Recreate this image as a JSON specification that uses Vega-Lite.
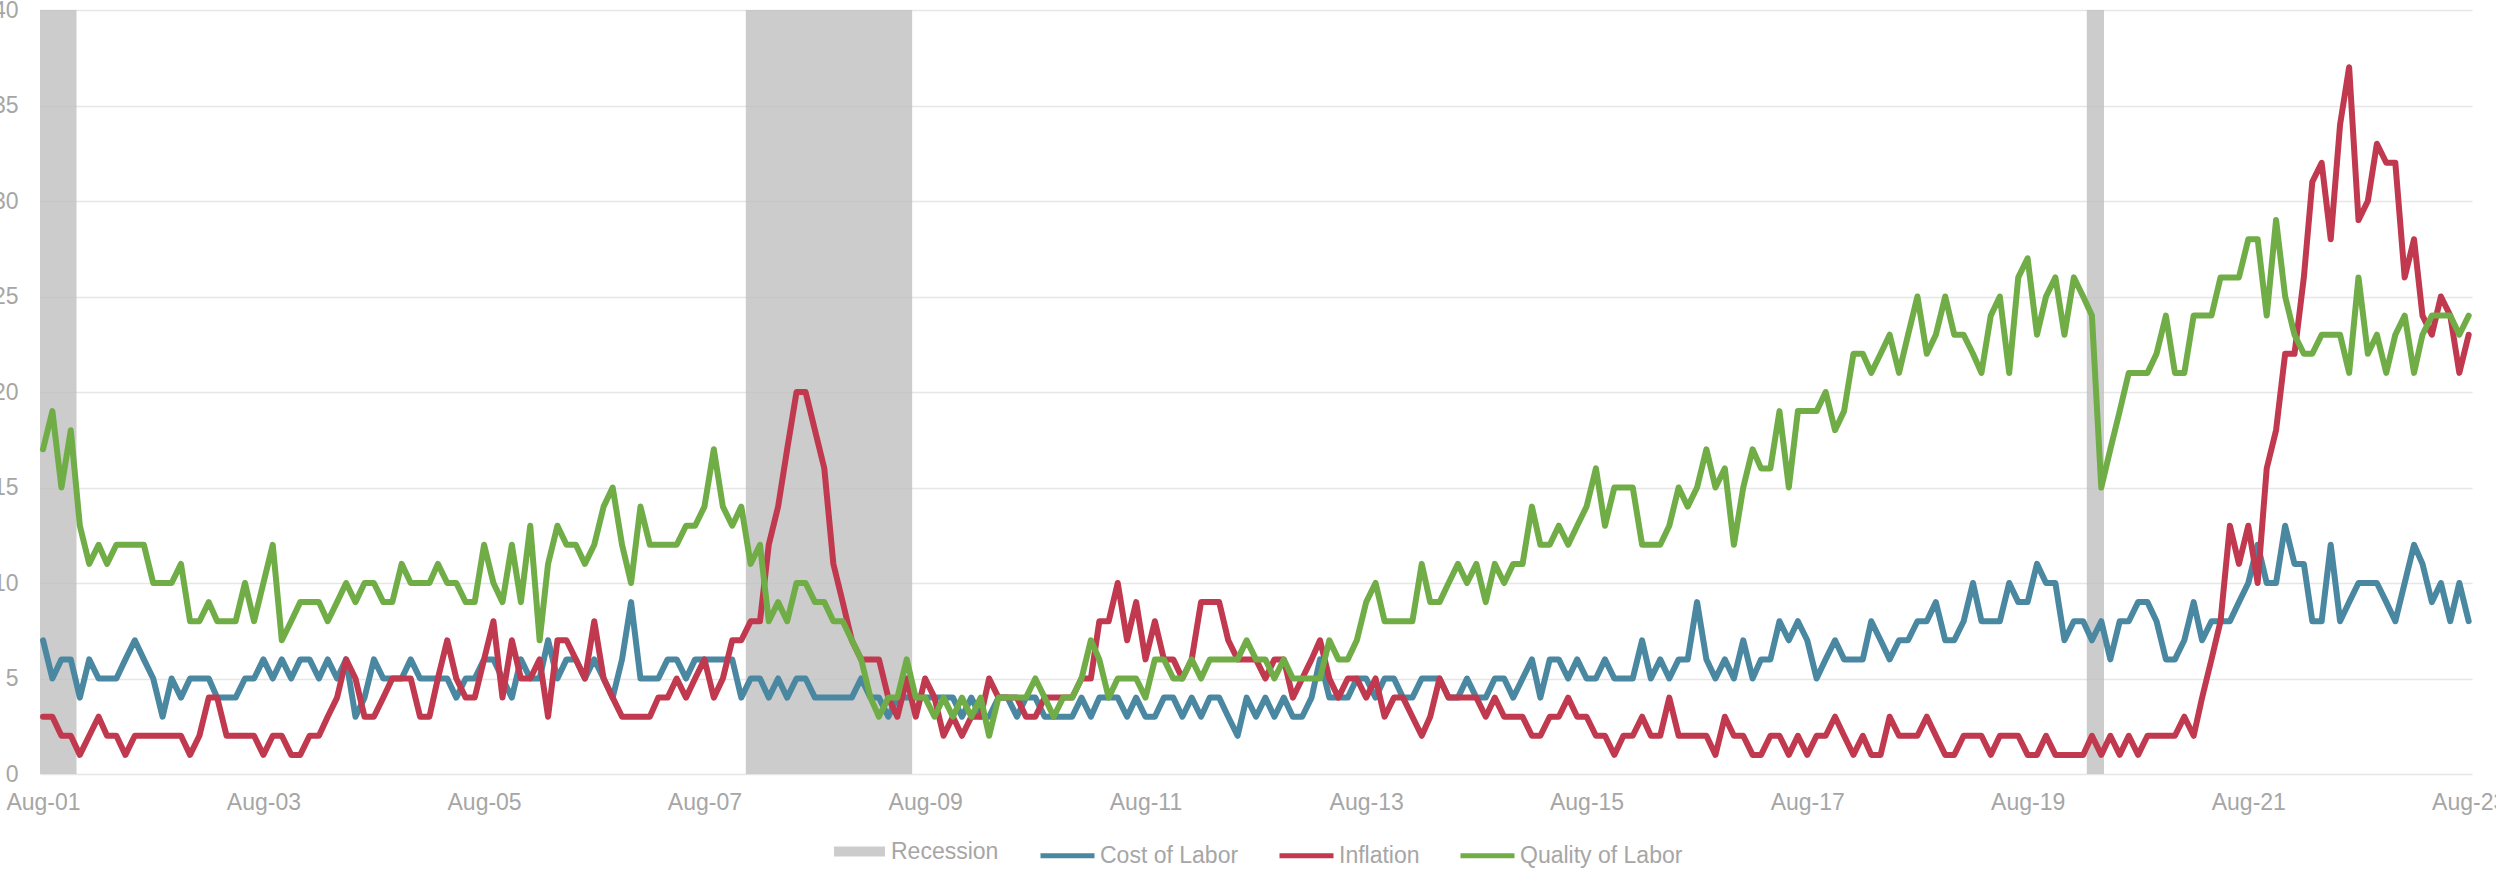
{
"$schema": "https://vega.github.io/schema/vega-lite/v6.json",
"width": 2432, "height": 764,
"autosize": {"type": "none"},
"padding": {"left": 40, "top": 10, "right": 24, "bottom": 97},
"background": "white",
"config": {
  "view": {"stroke": null},
  "font": "Liberation Sans",
  "axis": {"labelFont": "Liberation Sans", "labelFontSize": 23, "labelColor": "#A6A6A6", "ticks": false, "domain": false, "title": null},
  "legend": {"labelFont": "Liberation Sans", "labelFontSize": 23, "labelColor": "#A6A6A6", "padding": 0, "title": null, "labelLimit": 400}
},
"datasets": {
"recessions": [
{"label": "Recession", "start": "2001-03-01", "end": "2001-11-20"},
{"label": "Recession", "start": "2007-12-16", "end": "2009-06-19"},
{"label": "Recession", "start": "2020-02-13", "end": "2020-04-10"}
],
"survey": [
{"date":"2001-08-01","Cost of Labor":7,"Inflation":3,"Quality of Labor":17},
{"date":"2001-09-01","Cost of Labor":5,"Inflation":3,"Quality of Labor":19},
{"date":"2001-10-01","Cost of Labor":6,"Inflation":2,"Quality of Labor":15},
{"date":"2001-11-01","Cost of Labor":6,"Inflation":2,"Quality of Labor":18},
{"date":"2001-12-01","Cost of Labor":4,"Inflation":1,"Quality of Labor":13},
{"date":"2002-01-01","Cost of Labor":6,"Inflation":2,"Quality of Labor":11},
{"date":"2002-02-01","Cost of Labor":5,"Inflation":3,"Quality of Labor":12},
{"date":"2002-03-01","Cost of Labor":5,"Inflation":2,"Quality of Labor":11},
{"date":"2002-04-01","Cost of Labor":5,"Inflation":2,"Quality of Labor":12},
{"date":"2002-05-01","Cost of Labor":6,"Inflation":1,"Quality of Labor":12},
{"date":"2002-06-01","Cost of Labor":7,"Inflation":2,"Quality of Labor":12},
{"date":"2002-07-01","Cost of Labor":6,"Inflation":2,"Quality of Labor":12},
{"date":"2002-08-01","Cost of Labor":5,"Inflation":2,"Quality of Labor":10},
{"date":"2002-09-01","Cost of Labor":3,"Inflation":2,"Quality of Labor":10},
{"date":"2002-10-01","Cost of Labor":5,"Inflation":2,"Quality of Labor":10},
{"date":"2002-11-01","Cost of Labor":4,"Inflation":2,"Quality of Labor":11},
{"date":"2002-12-01","Cost of Labor":5,"Inflation":1,"Quality of Labor":8},
{"date":"2003-01-01","Cost of Labor":5,"Inflation":2,"Quality of Labor":8},
{"date":"2003-02-01","Cost of Labor":5,"Inflation":4,"Quality of Labor":9},
{"date":"2003-03-01","Cost of Labor":4,"Inflation":4,"Quality of Labor":8},
{"date":"2003-04-01","Cost of Labor":4,"Inflation":2,"Quality of Labor":8},
{"date":"2003-05-01","Cost of Labor":4,"Inflation":2,"Quality of Labor":8},
{"date":"2003-06-01","Cost of Labor":5,"Inflation":2,"Quality of Labor":10},
{"date":"2003-07-01","Cost of Labor":5,"Inflation":2,"Quality of Labor":8},
{"date":"2003-08-01","Cost of Labor":6,"Inflation":1,"Quality of Labor":10},
{"date":"2003-09-01","Cost of Labor":5,"Inflation":2,"Quality of Labor":12},
{"date":"2003-10-01","Cost of Labor":6,"Inflation":2,"Quality of Labor":7},
{"date":"2003-11-01","Cost of Labor":5,"Inflation":1,"Quality of Labor":8},
{"date":"2003-12-01","Cost of Labor":6,"Inflation":1,"Quality of Labor":9},
{"date":"2004-01-01","Cost of Labor":6,"Inflation":2,"Quality of Labor":9},
{"date":"2004-02-01","Cost of Labor":5,"Inflation":2,"Quality of Labor":9},
{"date":"2004-03-01","Cost of Labor":6,"Inflation":3,"Quality of Labor":8},
{"date":"2004-04-01","Cost of Labor":5,"Inflation":4,"Quality of Labor":9},
{"date":"2004-05-01","Cost of Labor":6,"Inflation":6,"Quality of Labor":10},
{"date":"2004-06-01","Cost of Labor":3,"Inflation":5,"Quality of Labor":9},
{"date":"2004-07-01","Cost of Labor":4,"Inflation":3,"Quality of Labor":10},
{"date":"2004-08-01","Cost of Labor":6,"Inflation":3,"Quality of Labor":10},
{"date":"2004-09-01","Cost of Labor":5,"Inflation":4,"Quality of Labor":9},
{"date":"2004-10-01","Cost of Labor":5,"Inflation":5,"Quality of Labor":9},
{"date":"2004-11-01","Cost of Labor":5,"Inflation":5,"Quality of Labor":11},
{"date":"2004-12-01","Cost of Labor":6,"Inflation":5,"Quality of Labor":10},
{"date":"2005-01-01","Cost of Labor":5,"Inflation":3,"Quality of Labor":10},
{"date":"2005-02-01","Cost of Labor":5,"Inflation":3,"Quality of Labor":10},
{"date":"2005-03-01","Cost of Labor":5,"Inflation":5,"Quality of Labor":11},
{"date":"2005-04-01","Cost of Labor":5,"Inflation":7,"Quality of Labor":10},
{"date":"2005-05-01","Cost of Labor":4,"Inflation":5,"Quality of Labor":10},
{"date":"2005-06-01","Cost of Labor":5,"Inflation":4,"Quality of Labor":9},
{"date":"2005-07-01","Cost of Labor":5,"Inflation":4,"Quality of Labor":9},
{"date":"2005-08-01","Cost of Labor":6,"Inflation":6,"Quality of Labor":12},
{"date":"2005-09-01","Cost of Labor":6,"Inflation":8,"Quality of Labor":10},
{"date":"2005-10-01","Cost of Labor":5,"Inflation":4,"Quality of Labor":9},
{"date":"2005-11-01","Cost of Labor":4,"Inflation":7,"Quality of Labor":12},
{"date":"2005-12-01","Cost of Labor":6,"Inflation":5,"Quality of Labor":9},
{"date":"2006-01-01","Cost of Labor":5,"Inflation":5,"Quality of Labor":13},
{"date":"2006-02-01","Cost of Labor":5,"Inflation":6,"Quality of Labor":7},
{"date":"2006-03-01","Cost of Labor":7,"Inflation":3,"Quality of Labor":11},
{"date":"2006-04-01","Cost of Labor":5,"Inflation":7,"Quality of Labor":13},
{"date":"2006-05-01","Cost of Labor":6,"Inflation":7,"Quality of Labor":12},
{"date":"2006-06-01","Cost of Labor":6,"Inflation":6,"Quality of Labor":12},
{"date":"2006-07-01","Cost of Labor":5,"Inflation":5,"Quality of Labor":11},
{"date":"2006-08-01","Cost of Labor":6,"Inflation":8,"Quality of Labor":12},
{"date":"2006-09-01","Cost of Labor":5,"Inflation":5,"Quality of Labor":14},
{"date":"2006-10-01","Cost of Labor":4,"Inflation":4,"Quality of Labor":15},
{"date":"2006-11-01","Cost of Labor":6,"Inflation":3,"Quality of Labor":12},
{"date":"2006-12-01","Cost of Labor":9,"Inflation":3,"Quality of Labor":10},
{"date":"2007-01-01","Cost of Labor":5,"Inflation":3,"Quality of Labor":14},
{"date":"2007-02-01","Cost of Labor":5,"Inflation":3,"Quality of Labor":12},
{"date":"2007-03-01","Cost of Labor":5,"Inflation":4,"Quality of Labor":12},
{"date":"2007-04-01","Cost of Labor":6,"Inflation":4,"Quality of Labor":12},
{"date":"2007-05-01","Cost of Labor":6,"Inflation":5,"Quality of Labor":12},
{"date":"2007-06-01","Cost of Labor":5,"Inflation":4,"Quality of Labor":13},
{"date":"2007-07-01","Cost of Labor":6,"Inflation":5,"Quality of Labor":13},
{"date":"2007-08-01","Cost of Labor":6,"Inflation":6,"Quality of Labor":14},
{"date":"2007-09-01","Cost of Labor":6,"Inflation":4,"Quality of Labor":17},
{"date":"2007-10-01","Cost of Labor":6,"Inflation":5,"Quality of Labor":14},
{"date":"2007-11-01","Cost of Labor":6,"Inflation":7,"Quality of Labor":13},
{"date":"2007-12-01","Cost of Labor":4,"Inflation":7,"Quality of Labor":14},
{"date":"2008-01-01","Cost of Labor":5,"Inflation":8,"Quality of Labor":11},
{"date":"2008-02-01","Cost of Labor":5,"Inflation":8,"Quality of Labor":12},
{"date":"2008-03-01","Cost of Labor":4,"Inflation":12,"Quality of Labor":8},
{"date":"2008-04-01","Cost of Labor":5,"Inflation":14,"Quality of Labor":9},
{"date":"2008-05-01","Cost of Labor":4,"Inflation":17,"Quality of Labor":8},
{"date":"2008-06-01","Cost of Labor":5,"Inflation":20,"Quality of Labor":10},
{"date":"2008-07-01","Cost of Labor":5,"Inflation":20,"Quality of Labor":10},
{"date":"2008-08-01","Cost of Labor":4,"Inflation":18,"Quality of Labor":9},
{"date":"2008-09-01","Cost of Labor":4,"Inflation":16,"Quality of Labor":9},
{"date":"2008-10-01","Cost of Labor":4,"Inflation":11,"Quality of Labor":8},
{"date":"2008-11-01","Cost of Labor":4,"Inflation":9,"Quality of Labor":8},
{"date":"2008-12-01","Cost of Labor":4,"Inflation":7,"Quality of Labor":7},
{"date":"2009-01-01","Cost of Labor":5,"Inflation":6,"Quality of Labor":6},
{"date":"2009-02-01","Cost of Labor":4,"Inflation":6,"Quality of Labor":4},
{"date":"2009-03-01","Cost of Labor":4,"Inflation":6,"Quality of Labor":3},
{"date":"2009-04-01","Cost of Labor":3,"Inflation":4,"Quality of Labor":4},
{"date":"2009-05-01","Cost of Labor":4,"Inflation":3,"Quality of Labor":4},
{"date":"2009-06-01","Cost of Labor":4,"Inflation":5,"Quality of Labor":6},
{"date":"2009-07-01","Cost of Labor":4,"Inflation":3,"Quality of Labor":4},
{"date":"2009-08-01","Cost of Labor":4,"Inflation":5,"Quality of Labor":4},
{"date":"2009-09-01","Cost of Labor":4,"Inflation":4,"Quality of Labor":3},
{"date":"2009-10-01","Cost of Labor":4,"Inflation":2,"Quality of Labor":4},
{"date":"2009-11-01","Cost of Labor":4,"Inflation":3,"Quality of Labor":3},
{"date":"2009-12-01","Cost of Labor":3,"Inflation":2,"Quality of Labor":4},
{"date":"2010-01-01","Cost of Labor":4,"Inflation":3,"Quality of Labor":3},
{"date":"2010-02-01","Cost of Labor":3,"Inflation":3,"Quality of Labor":4},
{"date":"2010-03-01","Cost of Labor":3,"Inflation":5,"Quality of Labor":2},
{"date":"2010-04-01","Cost of Labor":4,"Inflation":4,"Quality of Labor":4},
{"date":"2010-05-01","Cost of Labor":4,"Inflation":4,"Quality of Labor":4},
{"date":"2010-06-01","Cost of Labor":3,"Inflation":4,"Quality of Labor":4},
{"date":"2010-07-01","Cost of Labor":4,"Inflation":3,"Quality of Labor":4},
{"date":"2010-08-01","Cost of Labor":4,"Inflation":3,"Quality of Labor":5},
{"date":"2010-09-01","Cost of Labor":3,"Inflation":4,"Quality of Labor":4},
{"date":"2010-10-01","Cost of Labor":3,"Inflation":4,"Quality of Labor":3},
{"date":"2010-11-01","Cost of Labor":3,"Inflation":4,"Quality of Labor":4},
{"date":"2010-12-01","Cost of Labor":3,"Inflation":4,"Quality of Labor":4},
{"date":"2011-01-01","Cost of Labor":4,"Inflation":5,"Quality of Labor":5},
{"date":"2011-02-01","Cost of Labor":3,"Inflation":5,"Quality of Labor":7},
{"date":"2011-03-01","Cost of Labor":4,"Inflation":8,"Quality of Labor":6},
{"date":"2011-04-01","Cost of Labor":4,"Inflation":8,"Quality of Labor":4},
{"date":"2011-05-01","Cost of Labor":4,"Inflation":10,"Quality of Labor":5},
{"date":"2011-06-01","Cost of Labor":3,"Inflation":7,"Quality of Labor":5},
{"date":"2011-07-01","Cost of Labor":4,"Inflation":9,"Quality of Labor":5},
{"date":"2011-08-01","Cost of Labor":3,"Inflation":6,"Quality of Labor":4},
{"date":"2011-09-01","Cost of Labor":3,"Inflation":8,"Quality of Labor":6},
{"date":"2011-10-01","Cost of Labor":4,"Inflation":6,"Quality of Labor":6},
{"date":"2011-11-01","Cost of Labor":4,"Inflation":6,"Quality of Labor":5},
{"date":"2011-12-01","Cost of Labor":3,"Inflation":5,"Quality of Labor":5},
{"date":"2012-01-01","Cost of Labor":4,"Inflation":6,"Quality of Labor":6},
{"date":"2012-02-01","Cost of Labor":3,"Inflation":9,"Quality of Labor":5},
{"date":"2012-03-01","Cost of Labor":4,"Inflation":9,"Quality of Labor":6},
{"date":"2012-04-01","Cost of Labor":4,"Inflation":9,"Quality of Labor":6},
{"date":"2012-05-01","Cost of Labor":3,"Inflation":7,"Quality of Labor":6},
{"date":"2012-06-01","Cost of Labor":2,"Inflation":6,"Quality of Labor":6},
{"date":"2012-07-01","Cost of Labor":4,"Inflation":6,"Quality of Labor":7},
{"date":"2012-08-01","Cost of Labor":3,"Inflation":6,"Quality of Labor":6},
{"date":"2012-09-01","Cost of Labor":4,"Inflation":5,"Quality of Labor":6},
{"date":"2012-10-01","Cost of Labor":3,"Inflation":6,"Quality of Labor":5},
{"date":"2012-11-01","Cost of Labor":4,"Inflation":6,"Quality of Labor":6},
{"date":"2012-12-01","Cost of Labor":3,"Inflation":4,"Quality of Labor":5},
{"date":"2013-01-01","Cost of Labor":3,"Inflation":5,"Quality of Labor":5},
{"date":"2013-02-01","Cost of Labor":4,"Inflation":6,"Quality of Labor":5},
{"date":"2013-03-01","Cost of Labor":6,"Inflation":7,"Quality of Labor":5},
{"date":"2013-04-01","Cost of Labor":4,"Inflation":5,"Quality of Labor":7},
{"date":"2013-05-01","Cost of Labor":4,"Inflation":4,"Quality of Labor":6},
{"date":"2013-06-01","Cost of Labor":4,"Inflation":5,"Quality of Labor":6},
{"date":"2013-07-01","Cost of Labor":5,"Inflation":5,"Quality of Labor":7},
{"date":"2013-08-01","Cost of Labor":5,"Inflation":4,"Quality of Labor":9},
{"date":"2013-09-01","Cost of Labor":4,"Inflation":5,"Quality of Labor":10},
{"date":"2013-10-01","Cost of Labor":5,"Inflation":3,"Quality of Labor":8},
{"date":"2013-11-01","Cost of Labor":5,"Inflation":4,"Quality of Labor":8},
{"date":"2013-12-01","Cost of Labor":4,"Inflation":4,"Quality of Labor":8},
{"date":"2014-01-01","Cost of Labor":4,"Inflation":3,"Quality of Labor":8},
{"date":"2014-02-01","Cost of Labor":5,"Inflation":2,"Quality of Labor":11},
{"date":"2014-03-01","Cost of Labor":5,"Inflation":3,"Quality of Labor":9},
{"date":"2014-04-01","Cost of Labor":5,"Inflation":5,"Quality of Labor":9},
{"date":"2014-05-01","Cost of Labor":4,"Inflation":4,"Quality of Labor":10},
{"date":"2014-06-01","Cost of Labor":4,"Inflation":4,"Quality of Labor":11},
{"date":"2014-07-01","Cost of Labor":5,"Inflation":4,"Quality of Labor":10},
{"date":"2014-08-01","Cost of Labor":4,"Inflation":4,"Quality of Labor":11},
{"date":"2014-09-01","Cost of Labor":4,"Inflation":3,"Quality of Labor":9},
{"date":"2014-10-01","Cost of Labor":5,"Inflation":4,"Quality of Labor":11},
{"date":"2014-11-01","Cost of Labor":5,"Inflation":3,"Quality of Labor":10},
{"date":"2014-12-01","Cost of Labor":4,"Inflation":3,"Quality of Labor":11},
{"date":"2015-01-01","Cost of Labor":5,"Inflation":3,"Quality of Labor":11},
{"date":"2015-02-01","Cost of Labor":6,"Inflation":2,"Quality of Labor":14},
{"date":"2015-03-01","Cost of Labor":4,"Inflation":2,"Quality of Labor":12},
{"date":"2015-04-01","Cost of Labor":6,"Inflation":3,"Quality of Labor":12},
{"date":"2015-05-01","Cost of Labor":6,"Inflation":3,"Quality of Labor":13},
{"date":"2015-06-01","Cost of Labor":5,"Inflation":4,"Quality of Labor":12},
{"date":"2015-07-01","Cost of Labor":6,"Inflation":3,"Quality of Labor":13},
{"date":"2015-08-01","Cost of Labor":5,"Inflation":3,"Quality of Labor":14},
{"date":"2015-09-01","Cost of Labor":5,"Inflation":2,"Quality of Labor":16},
{"date":"2015-10-01","Cost of Labor":6,"Inflation":2,"Quality of Labor":13},
{"date":"2015-11-01","Cost of Labor":5,"Inflation":1,"Quality of Labor":15},
{"date":"2015-12-01","Cost of Labor":5,"Inflation":2,"Quality of Labor":15},
{"date":"2016-01-01","Cost of Labor":5,"Inflation":2,"Quality of Labor":15},
{"date":"2016-02-01","Cost of Labor":7,"Inflation":3,"Quality of Labor":12},
{"date":"2016-03-01","Cost of Labor":5,"Inflation":2,"Quality of Labor":12},
{"date":"2016-04-01","Cost of Labor":6,"Inflation":2,"Quality of Labor":12},
{"date":"2016-05-01","Cost of Labor":5,"Inflation":4,"Quality of Labor":13},
{"date":"2016-06-01","Cost of Labor":6,"Inflation":2,"Quality of Labor":15},
{"date":"2016-07-01","Cost of Labor":6,"Inflation":2,"Quality of Labor":14},
{"date":"2016-08-01","Cost of Labor":9,"Inflation":2,"Quality of Labor":15},
{"date":"2016-09-01","Cost of Labor":6,"Inflation":2,"Quality of Labor":17},
{"date":"2016-10-01","Cost of Labor":5,"Inflation":1,"Quality of Labor":15},
{"date":"2016-11-01","Cost of Labor":6,"Inflation":3,"Quality of Labor":16},
{"date":"2016-12-01","Cost of Labor":5,"Inflation":2,"Quality of Labor":12},
{"date":"2017-01-01","Cost of Labor":7,"Inflation":2,"Quality of Labor":15},
{"date":"2017-02-01","Cost of Labor":5,"Inflation":1,"Quality of Labor":17},
{"date":"2017-03-01","Cost of Labor":6,"Inflation":1,"Quality of Labor":16},
{"date":"2017-04-01","Cost of Labor":6,"Inflation":2,"Quality of Labor":16},
{"date":"2017-05-01","Cost of Labor":8,"Inflation":2,"Quality of Labor":19},
{"date":"2017-06-01","Cost of Labor":7,"Inflation":1,"Quality of Labor":15},
{"date":"2017-07-01","Cost of Labor":8,"Inflation":2,"Quality of Labor":19},
{"date":"2017-08-01","Cost of Labor":7,"Inflation":1,"Quality of Labor":19},
{"date":"2017-09-01","Cost of Labor":5,"Inflation":2,"Quality of Labor":19},
{"date":"2017-10-01","Cost of Labor":6,"Inflation":2,"Quality of Labor":20},
{"date":"2017-11-01","Cost of Labor":7,"Inflation":3,"Quality of Labor":18},
{"date":"2017-12-01","Cost of Labor":6,"Inflation":2,"Quality of Labor":19},
{"date":"2018-01-01","Cost of Labor":6,"Inflation":1,"Quality of Labor":22},
{"date":"2018-02-01","Cost of Labor":6,"Inflation":2,"Quality of Labor":22},
{"date":"2018-03-01","Cost of Labor":8,"Inflation":1,"Quality of Labor":21},
{"date":"2018-04-01","Cost of Labor":7,"Inflation":1,"Quality of Labor":22},
{"date":"2018-05-01","Cost of Labor":6,"Inflation":3,"Quality of Labor":23},
{"date":"2018-06-01","Cost of Labor":7,"Inflation":2,"Quality of Labor":21},
{"date":"2018-07-01","Cost of Labor":7,"Inflation":2,"Quality of Labor":23},
{"date":"2018-08-01","Cost of Labor":8,"Inflation":2,"Quality of Labor":25},
{"date":"2018-09-01","Cost of Labor":8,"Inflation":3,"Quality of Labor":22},
{"date":"2018-10-01","Cost of Labor":9,"Inflation":2,"Quality of Labor":23},
{"date":"2018-11-01","Cost of Labor":7,"Inflation":1,"Quality of Labor":25},
{"date":"2018-12-01","Cost of Labor":7,"Inflation":1,"Quality of Labor":23},
{"date":"2019-01-01","Cost of Labor":8,"Inflation":2,"Quality of Labor":23},
{"date":"2019-02-01","Cost of Labor":10,"Inflation":2,"Quality of Labor":22},
{"date":"2019-03-01","Cost of Labor":8,"Inflation":2,"Quality of Labor":21},
{"date":"2019-04-01","Cost of Labor":8,"Inflation":1,"Quality of Labor":24},
{"date":"2019-05-01","Cost of Labor":8,"Inflation":2,"Quality of Labor":25},
{"date":"2019-06-01","Cost of Labor":10,"Inflation":2,"Quality of Labor":21},
{"date":"2019-07-01","Cost of Labor":9,"Inflation":2,"Quality of Labor":26},
{"date":"2019-08-01","Cost of Labor":9,"Inflation":1,"Quality of Labor":27},
{"date":"2019-09-01","Cost of Labor":11,"Inflation":1,"Quality of Labor":23},
{"date":"2019-10-01","Cost of Labor":10,"Inflation":2,"Quality of Labor":25},
{"date":"2019-11-01","Cost of Labor":10,"Inflation":1,"Quality of Labor":26},
{"date":"2019-12-01","Cost of Labor":7,"Inflation":1,"Quality of Labor":23},
{"date":"2020-01-01","Cost of Labor":8,"Inflation":1,"Quality of Labor":26},
{"date":"2020-02-01","Cost of Labor":8,"Inflation":1,"Quality of Labor":25},
{"date":"2020-03-01","Cost of Labor":7,"Inflation":2,"Quality of Labor":24},
{"date":"2020-04-01","Cost of Labor":8,"Inflation":1,"Quality of Labor":15},
{"date":"2020-05-01","Cost of Labor":6,"Inflation":2,"Quality of Labor":17},
{"date":"2020-06-01","Cost of Labor":8,"Inflation":1,"Quality of Labor":19},
{"date":"2020-07-01","Cost of Labor":8,"Inflation":2,"Quality of Labor":21},
{"date":"2020-08-01","Cost of Labor":9,"Inflation":1,"Quality of Labor":21},
{"date":"2020-09-01","Cost of Labor":9,"Inflation":2,"Quality of Labor":21},
{"date":"2020-10-01","Cost of Labor":8,"Inflation":2,"Quality of Labor":22},
{"date":"2020-11-01","Cost of Labor":6,"Inflation":2,"Quality of Labor":24},
{"date":"2020-12-01","Cost of Labor":6,"Inflation":2,"Quality of Labor":21},
{"date":"2021-01-01","Cost of Labor":7,"Inflation":3,"Quality of Labor":21},
{"date":"2021-02-01","Cost of Labor":9,"Inflation":2,"Quality of Labor":24},
{"date":"2021-03-01","Cost of Labor":7,"Inflation":4,"Quality of Labor":24},
{"date":"2021-04-01","Cost of Labor":8,"Inflation":6,"Quality of Labor":24},
{"date":"2021-05-01","Cost of Labor":8,"Inflation":8,"Quality of Labor":26},
{"date":"2021-06-01","Cost of Labor":8,"Inflation":13,"Quality of Labor":26},
{"date":"2021-07-01","Cost of Labor":9,"Inflation":11,"Quality of Labor":26},
{"date":"2021-08-01","Cost of Labor":10,"Inflation":13,"Quality of Labor":28},
{"date":"2021-09-01","Cost of Labor":12,"Inflation":10,"Quality of Labor":28},
{"date":"2021-10-01","Cost of Labor":10,"Inflation":16,"Quality of Labor":24},
{"date":"2021-11-01","Cost of Labor":10,"Inflation":18,"Quality of Labor":29},
{"date":"2021-12-01","Cost of Labor":13,"Inflation":22,"Quality of Labor":25},
{"date":"2022-01-01","Cost of Labor":11,"Inflation":22,"Quality of Labor":23},
{"date":"2022-02-01","Cost of Labor":11,"Inflation":26,"Quality of Labor":22},
{"date":"2022-03-01","Cost of Labor":8,"Inflation":31,"Quality of Labor":22},
{"date":"2022-04-01","Cost of Labor":8,"Inflation":32,"Quality of Labor":23},
{"date":"2022-05-01","Cost of Labor":12,"Inflation":28,"Quality of Labor":23},
{"date":"2022-06-01","Cost of Labor":8,"Inflation":34,"Quality of Labor":23},
{"date":"2022-07-01","Cost of Labor":9,"Inflation":37,"Quality of Labor":21},
{"date":"2022-08-01","Cost of Labor":10,"Inflation":29,"Quality of Labor":26},
{"date":"2022-09-01","Cost of Labor":10,"Inflation":30,"Quality of Labor":22},
{"date":"2022-10-01","Cost of Labor":10,"Inflation":33,"Quality of Labor":23},
{"date":"2022-11-01","Cost of Labor":9,"Inflation":32,"Quality of Labor":21},
{"date":"2022-12-01","Cost of Labor":8,"Inflation":32,"Quality of Labor":23},
{"date":"2023-01-01","Cost of Labor":10,"Inflation":26,"Quality of Labor":24},
{"date":"2023-02-01","Cost of Labor":12,"Inflation":28,"Quality of Labor":21},
{"date":"2023-03-01","Cost of Labor":11,"Inflation":24,"Quality of Labor":23},
{"date":"2023-04-01","Cost of Labor":9,"Inflation":23,"Quality of Labor":24},
{"date":"2023-05-01","Cost of Labor":10,"Inflation":25,"Quality of Labor":24},
{"date":"2023-06-01","Cost of Labor":8,"Inflation":24,"Quality of Labor":24},
{"date":"2023-07-01","Cost of Labor":10,"Inflation":21,"Quality of Labor":23},
{"date":"2023-08-01","Cost of Labor":8,"Inflation":23,"Quality of Labor":24}
]
},
"layer": [
{
  "data": {"name": "recessions"},
  "mark": {"type": "rect", "clip": true, "opacity": 0.8},
  "encoding": {
    "x": {"field": "start", "type": "temporal",
      "scale": {"type": "utc", "domain": [{"year": 2001, "month": 7, "date": 22, "utc": true}, {"year": 2023, "month": 8, "date": 12, "utc": true}]},
      "axis": {"labelExpr": "utcFormat(datum.value, '%b-%y')", "labelPadding": 17, "labelFlush": false, "labelOverlap": false, "labelBound": false, "grid": false,
        "values": [
          {"year": 2001, "month": 8, "date": 1, "utc": true},
          {"year": 2003, "month": 8, "date": 1, "utc": true},
          {"year": 2005, "month": 8, "date": 1, "utc": true},
          {"year": 2007, "month": 8, "date": 1, "utc": true},
          {"year": 2009, "month": 8, "date": 1, "utc": true},
          {"year": 2011, "month": 8, "date": 1, "utc": true},
          {"year": 2013, "month": 8, "date": 1, "utc": true},
          {"year": 2015, "month": 8, "date": 1, "utc": true},
          {"year": 2017, "month": 8, "date": 1, "utc": true},
          {"year": 2019, "month": 8, "date": 1, "utc": true},
          {"year": 2021, "month": 8, "date": 1, "utc": true},
          {"year": 2023, "month": 8, "date": 1, "utc": true}
        ]}},
    "x2": {"field": "end"},
    "fill": {"field": "label", "type": "nominal",
      "scale": {"domain": ["Recession"], "range": ["#BFBFBF"]},
      "legend": {"orient": "none", "legendX": 794, "legendY": 816, "symbolType": "M-1,-0.2H1V0.2H-1Z", "symbolSize": 2601, "symbolOpacity": 0.8, "symbolStrokeWidth": 0, "labelOffset": 6}}
  }
},
{
  "data": {"name": "survey"},
  "transform": [{"fold": ["Cost of Labor", "Inflation", "Quality of Labor"], "as": ["series", "value"]}],
  "mark": {"type": "line", "strokeWidth": 6, "strokeJoin": "round", "strokeCap": "round"},
  "encoding": {
    "x": {"field": "date", "type": "temporal"},
    "y": {"field": "value", "type": "quantitative",
      "scale": {"domain": [0, 40], "nice": false, "zero": true},
      "axis": {"values": [0, 5, 10, 15, 20, 25, 30, 35, 40], "labelPadding": 22, "grid": true, "gridColor": "#E6E6E6", "gridWidth": 1.5}},
    "stroke": {"field": "series", "type": "nominal",
      "scale": {"domain": ["Cost of Labor", "Inflation", "Quality of Labor"], "range": ["#4A87A1", "#C0394E", "#70AD47"]},
      "legend": {"orient": "none", "legendX": 998, "legendY": 816, "direction": "horizontal", "symbolType": "stroke", "symbolSize": 2916, "symbolStrokeWidth": 5, "columnPadding": 30, "labelOffset": 3}}
  }
}
]
}
